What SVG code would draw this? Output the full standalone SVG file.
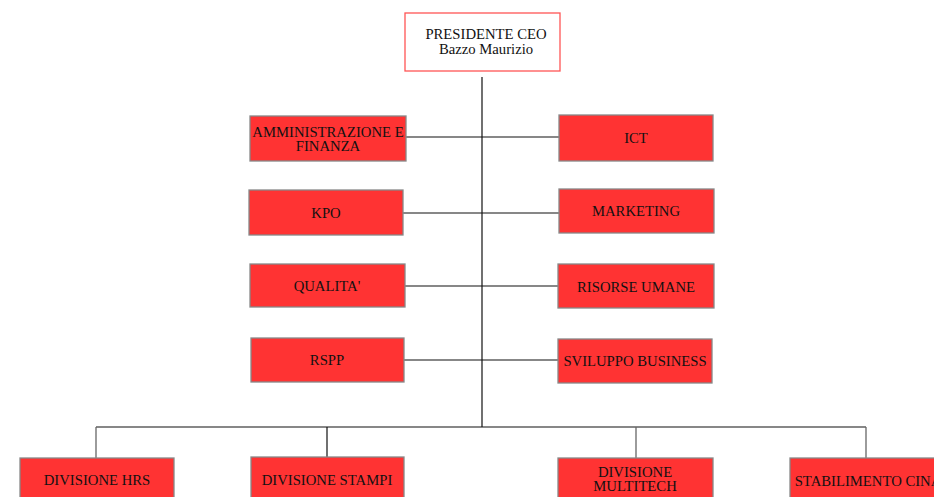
<svg xmlns="http://www.w3.org/2000/svg" width="934" height="497" viewBox="0 0 934 497">
<style>
.b{fill:#ff3333;stroke:#888;stroke-width:1.3}
.c{fill:#fff;stroke:#f55;stroke-width:1.3}
text{font-family:"Liberation Serif","Times New Roman",serif;font-size:14.7px;fill:#111;text-anchor:middle}
.l{stroke:#111;stroke-width:1.2;fill:none}
.g{stroke:#666;stroke-width:1.3;fill:none}
</style>
<rect width="934" height="497" fill="#fff"/>
<g id="connectors">
<line class="l" x1="482" y1="77" x2="482" y2="427"/>
<line class="l" x1="406" y1="137" x2="559" y2="137"/>
<line class="l" x1="403" y1="213" x2="559" y2="213"/>
<line class="l" x1="405" y1="286" x2="558" y2="286"/>
<line class="l" x1="404" y1="360" x2="558" y2="360"/>
<line class="l" x1="96" y1="427" x2="866" y2="427"/>
<line class="g" x1="96" y1="427" x2="96" y2="458"/>
<line class="l" x1="327" y1="427" x2="327" y2="457"/>
<line class="g" x1="636" y1="427" x2="636" y2="458"/>
<line class="g" x1="866" y1="427" x2="866" y2="458"/>
</g>
<g id="ceo"><rect class="c" x="405" y="13" width="155" height="58"/><text x="486" y="39">PRESIDENTE CEO</text><text x="486" y="54">Bazzo Maurizio</text></g>
<g id="amministrazione"><rect class="b" x="250" y="116" width="156" height="45"/><text x="328" y="137">AMMINISTRAZIONE E</text><text x="328" y="151">FINANZA</text></g>
<g id="kpo"><rect class="b" x="249" y="190" width="154" height="45"/><text x="326" y="218">KPO</text></g>
<g id="qualita"><rect class="b" x="250" y="264" width="155" height="43"/><text x="327" y="291">QUALITA'</text></g>
<g id="rspp"><rect class="b" x="251" y="338" width="153" height="44"/><text x="327" y="365">RSPP</text></g>
<g id="ict"><rect class="b" x="559" y="115" width="154" height="46"/><text x="636" y="143">ICT</text></g>
<g id="marketing"><rect class="b" x="559" y="189" width="155" height="44"/><text x="636" y="216">MARKETING</text></g>
<g id="risorse"><rect class="b" x="558" y="264" width="156" height="44"/><text x="636" y="292">RISORSE UMANE</text></g>
<g id="sviluppo"><rect class="b" x="558" y="339" width="154" height="44"/><text x="635" y="366">SVILUPPO BUSINESS</text></g>
<g id="hrs"><rect class="b" x="20" y="458" width="154" height="45"/><text x="97" y="485">DIVISIONE HRS</text></g>
<g id="stampi"><rect class="b" x="251" y="457" width="153" height="46"/><text x="327" y="485">DIVISIONE STAMPI</text></g>
<g id="multitech"><rect class="b" x="558" y="458" width="155" height="45"/><text x="635" y="477">DIVISIONE</text><text x="635" y="491">MULTITECH</text></g>
<g id="cina"><rect class="b" x="790" y="458" width="154" height="45"/><text x="868" y="486">STABILIMENTO CINA</text></g>
</svg>
